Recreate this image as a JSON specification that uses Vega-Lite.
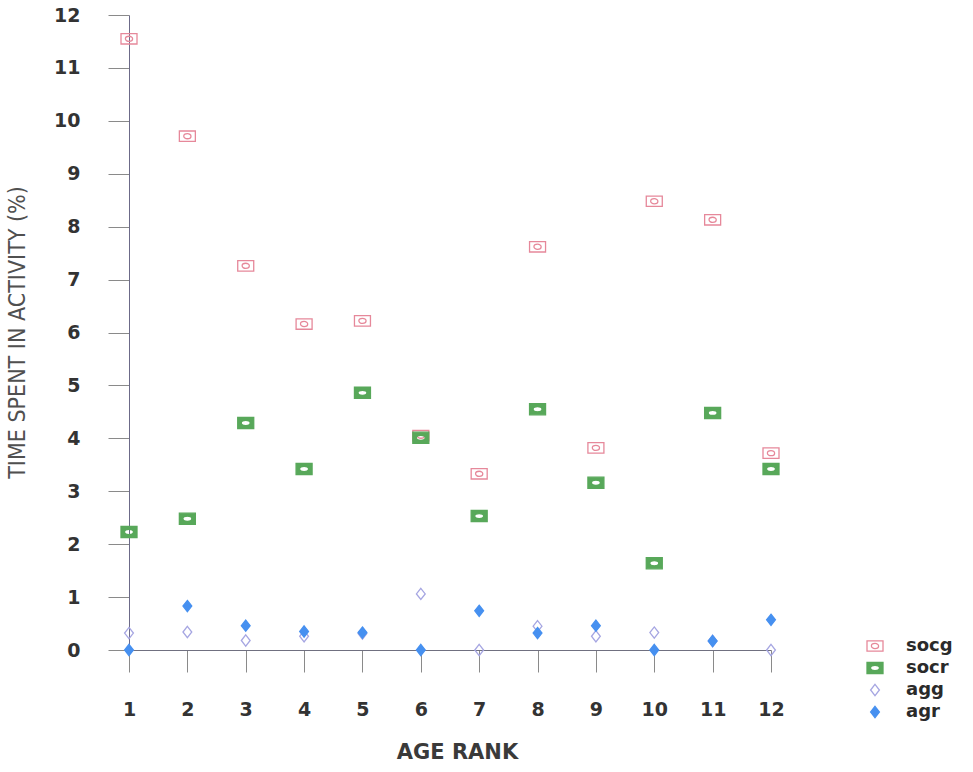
{
  "$schema": "https://vega.github.io/schema/vega-lite/v6.json",
  "width": 642,
  "height": 635,
  "autosize": {"type": "none"},
  "padding": {"left": 129, "top": 15, "right": 202, "bottom": 122},
  "background": "white",
  "config": {
    "view": {"stroke": null},
    "legend": {
      "orient": "none",
      "legendX": 737,
      "legendY": 622,
      "symbolSize": 256,
      "symbolStrokeWidth": 1.3,
      "labelFont": "DejaVu Sans",
      "labelFontSize": 18,
      "labelFontWeight": "bold",
      "labelColor": "#2a2a2a",
      "labelOffset": 22,
      "rowPadding": 4
    }
  },
  "data": {
    "values": [
      {"rank": 1, "series": "socg", "pct": 11.55},
      {"rank": 2, "series": "socg", "pct": 9.71},
      {"rank": 3, "series": "socg", "pct": 7.26},
      {"rank": 4, "series": "socg", "pct": 6.16},
      {"rank": 5, "series": "socg", "pct": 6.22},
      {"rank": 6, "series": "socg", "pct": 4.05},
      {"rank": 7, "series": "socg", "pct": 3.33},
      {"rank": 8, "series": "socg", "pct": 7.62},
      {"rank": 9, "series": "socg", "pct": 3.82},
      {"rank": 10, "series": "socg", "pct": 8.48},
      {"rank": 11, "series": "socg", "pct": 8.13},
      {"rank": 12, "series": "socg", "pct": 3.72},
      {"rank": 1, "series": "socr", "pct": 2.23},
      {"rank": 2, "series": "socr", "pct": 2.48},
      {"rank": 3, "series": "socr", "pct": 4.29},
      {"rank": 4, "series": "socr", "pct": 3.42},
      {"rank": 5, "series": "socr", "pct": 4.86},
      {"rank": 6, "series": "socr", "pct": 4.01},
      {"rank": 7, "series": "socr", "pct": 2.53},
      {"rank": 8, "series": "socr", "pct": 4.55},
      {"rank": 9, "series": "socr", "pct": 3.16},
      {"rank": 10, "series": "socr", "pct": 1.64},
      {"rank": 11, "series": "socr", "pct": 4.48},
      {"rank": 12, "series": "socr", "pct": 3.42},
      {"rank": 1, "series": "agg", "pct": 0.32},
      {"rank": 2, "series": "agg", "pct": 0.34},
      {"rank": 3, "series": "agg", "pct": 0.18},
      {"rank": 4, "series": "agg", "pct": 0.26},
      {"rank": 5, "series": "agg", "pct": 0.31},
      {"rank": 6, "series": "agg", "pct": 1.06},
      {"rank": 7, "series": "agg", "pct": 0.0},
      {"rank": 8, "series": "agg", "pct": 0.45},
      {"rank": 9, "series": "agg", "pct": 0.26},
      {"rank": 10, "series": "agg", "pct": 0.33},
      {"rank": 11, "series": "agg", "pct": 0.17},
      {"rank": 12, "series": "agg", "pct": 0.0},
      {"rank": 1, "series": "agr", "pct": 0.0},
      {"rank": 2, "series": "agr", "pct": 0.83},
      {"rank": 3, "series": "agr", "pct": 0.46},
      {"rank": 4, "series": "agr", "pct": 0.35},
      {"rank": 5, "series": "agr", "pct": 0.33},
      {"rank": 6, "series": "agr", "pct": 0.0},
      {"rank": 7, "series": "agr", "pct": 0.74},
      {"rank": 8, "series": "agr", "pct": 0.32},
      {"rank": 9, "series": "agr", "pct": 0.46},
      {"rank": 10, "series": "agr", "pct": 0.0},
      {"rank": 11, "series": "agr", "pct": 0.17},
      {"rank": 12, "series": "agr", "pct": 0.57}
    ]
  },
  "mark": {"type": "point", "opacity": 1, "strokeWidth": 1.3, "size": 256},
  "encoding": {
    "x": {
      "field": "rank",
      "type": "quantitative",
      "scale": {"domain": [1, 12], "nice": false, "zero": false},
      "axis": {
        "values": [1, 2, 3, 4, 5, 6, 7, 8, 9, 10, 11, 12],
        "grid": false,
        "tickSize": 22,
        "tickColor": "#8a8a8a",
        "domainColor": "#707080",
        "labelFont": "DejaVu Sans",
        "labelFontSize": 19,
        "labelFontWeight": "bold",
        "labelColor": "#333333",
        "labelPadding": 28,
        "labelFlush": false,
        "title": "AGE RANK",
        "titleFont": "DejaVu Sans",
        "titleFontSize": 21,
        "titleFontWeight": "bold",
        "titleColor": "#3a3a3a",
        "titleX": 328,
        "titleY": 102,
        "titleBaseline": "middle",
        "titleAlign": "center"
      }
    },
    "y": {
      "field": "pct",
      "type": "quantitative",
      "scale": {"domain": [0, 12], "nice": false},
      "axis": {
        "values": [0, 0.5, 1, 1.5, 2, 2.5, 3, 3.5, 4, 4.5, 5, 5.5, 6, 6.5, 7, 7.5, 8, 8.5, 9, 9.5, 10, 10.5, 11, 11.5, 12],
        "format": "d",
        "grid": false,
        "tickSize": 21,
        "tickColor": "#8a8a8a",
        "domainColor": "#6c6a88",
        "labelExpr": "datum.value % 1 ? '' : datum.label",
        "labelFont": "DejaVu Sans",
        "labelFontSize": 19,
        "labelFontWeight": "bold",
        "labelColor": "#333333",
        "labelPadding": 28,
        "labelFlush": false,
        "encode": {
          "ticks": {"update": {"x2": {"signal": "datum.value % 1 ? -8 : -21"}}}
        },
        "title": "TIME SPENT IN ACTIVITY (%)",
        "titleFont": "DejaVu Sans Condensed",
        "titleFontSize": 23,
        "titleFontWeight": "normal",
        "titleColor": "#505050",
        "titleX": -100,
        "titleY": 317,
        "titleAngle": -90,
        "titleBaseline": "bottom",
        "titleAlign": "center"
      }
    },
    "shape": {
      "field": "series",
      "type": "nominal",
      "scale": {
        "domain": ["socg", "socr", "agg", "agr"],
        "range": [
          "M-1,-0.65H1V0.65H-1Z M-0.45,0C-0.45,-0.177 -0.249,-0.32 0,-0.32C0.249,-0.32 0.45,-0.177 0.45,0C0.45,0.177 0.249,0.32 0,0.32C-0.249,0.32 -0.45,0.177 -0.45,0Z",
          "M-1,-0.7H1V0.7H-1Z M-0.56,0C-0.56,0.177 -0.309,0.32 0,0.32C0.309,0.32 0.56,0.177 0.56,0C0.56,-0.177 0.309,-0.32 0,-0.32C-0.309,-0.32 -0.56,-0.177 -0.56,0Z",
          "M0,-0.7L0.55,0L0,0.7L-0.55,0Z",
          "M0,-0.7L0.55,0L0,0.7L-0.55,0Z"
        ]
      },
      "legend": {"title": null}
    },
    "fill": {
      "field": "series",
      "type": "nominal",
      "scale": {
        "domain": ["socg", "socr", "agg", "agr"],
        "range": ["transparent", "#58a85a", "transparent", "#4690f0"]
      },
      "legend": {"title": null}
    },
    "stroke": {
      "field": "series",
      "type": "nominal",
      "scale": {
        "domain": ["socg", "socr", "agg", "agr"],
        "range": ["#e6889a", "#58a85a", "#a6a6e2", "#4690f0"]
      },
      "legend": {"title": null}
    }
  }
}
